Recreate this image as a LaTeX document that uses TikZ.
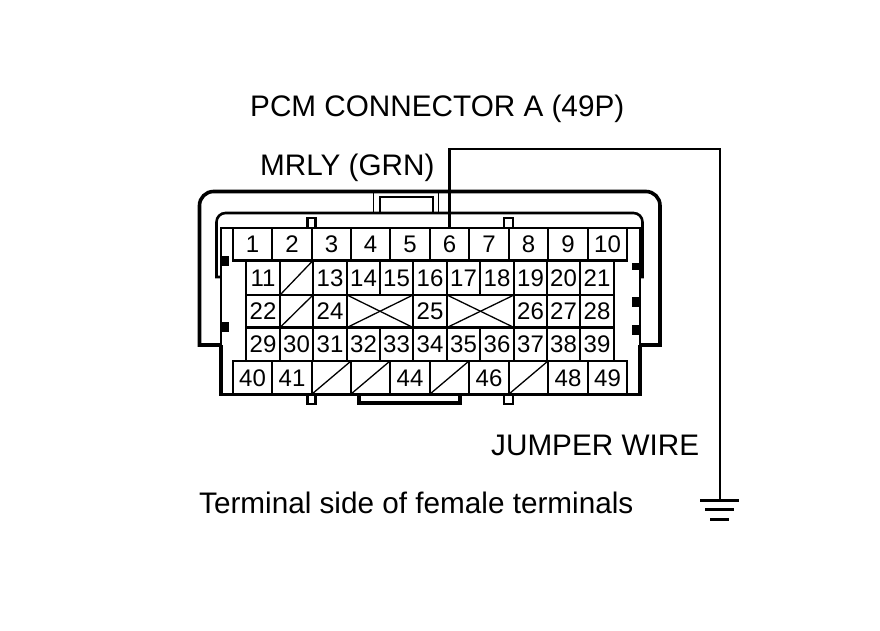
\documentclass[tikz,border=0pt]{standalone}
\usepackage{fontspec}
\setmainfont{Liberation Sans}
\tikzset{
  cellbox/.style={draw=black,line width=2.1pt,inner sep=0pt,outer sep=0pt,font=\fontsize{24}{24}\selectfont,anchor=center,text height=17pt,text depth=0pt},
  shell/.style={draw=black,line width=3.6pt,line join=miter},
  thinshell/.style={draw=black,line width=2.6pt},
  diag/.style={draw=black,line width=1.3pt},
  tab/.style={draw=black,line width=2.4pt,fill=white},
  pin/.style={fill=black,draw=none},
  wire/.style={draw=black,line width=2.2pt},
  label/.style={inner sep=0pt,anchor=base west,font=\fontsize{29.7}{29.7}\selectfont},
}
% \Cell{name}{x1}{x2}{y1}{y2}{text}
\newcommand{\Cell}[6]{%
  \pgfmathsetmacro{\cx}{(#2+#3)/2}\pgfmathsetmacro{\cy}{(#4+#5)/2}%
  \pgfmathsetmacro{\cw}{#3-#2}\pgfmathsetmacro{\ch}{#5-#4}%
  \node[cellbox,minimum width=\cw pt,minimum height=\ch pt] (#1) at (\cx,\cy) {#6};}
\begin{document}
\begin{tikzpicture}[x=1pt,y=-1pt]
\useasboundingbox (0,0) rectangle (880,630);
% shells
\draw[shell] (221,345) -- (199.5,345) [rounded corners=14pt] -- (199.5,191.5) -- (660,191.5) [sharp corners] -- (660,345) -- (640,345);
\draw[thinshell] (221,277) -- (216.5,277) [rounded corners=9pt] -- (216.5,213) -- (642.5,213) [sharp corners] -- (642.5,277) -- (640,277);
% latch
\draw[draw=black,line width=1.4pt] (373.5,192) -- (373.5,213);
\draw[draw=black,line width=1.4pt] (438.5,192) -- (438.5,213);
\draw[thinshell] (380,213) -- (380,197) -- (433,197) -- (433,213);
% tabs
\draw[tab] (307.5,228) rectangle (315.5,218);
\draw[tab] (504,228) rectangle (513,218);
\draw[tab] (307.5,395) rectangle (315.5,404);
\draw[tab] (504,395) rectangle (513,404);
\draw[shell] (359,395) -- (359,403) -- (460,403) -- (460,395);
% body
\draw[draw=black,line width=2.1pt,fill=white] (221,228) rectangle (640,394.5);
\draw[shell] (221,345) -- (221,394.5) -- (640,394.5) -- (640,345);
% pins
\fill[pin] (221,256) rectangle (229,266);
\fill[pin] (221,322) rectangle (229,332);
\fill[pin] (632,263) rectangle (640,270);
\fill[pin] (632,297) rectangle (640,307);
\fill[pin] (632,325) rectangle (640,335);
% row 1
\Cell{c1}{233}{272}{228}{260.5}{1}
\Cell{c2}{272}{312}{228}{260.5}{2}
\Cell{c3}{312}{351}{228}{260.5}{3}
\Cell{c4}{351}{390}{228}{260.5}{4}
\Cell{c5}{390}{430}{228}{260.5}{5}
\Cell{c6}{430}{469}{228}{260.5}{6}
\Cell{c7}{469}{509}{228}{260.5}{7}
\Cell{c8}{509}{548}{228}{260.5}{8}
\Cell{c9}{548}{588}{228}{260.5}{9}
\Cell{c10}{588}{627}{228}{260.5}{10}
% row 2
\Cell{c11}{246}{280}{260.5}{295}{11}
\Cell{c12}{280}{313}{260.5}{295}{}
\Cell{c13}{313}{347}{260.5}{295}{13}
\Cell{c14}{347}{380}{260.5}{295}{14}
\Cell{c15}{380}{413}{260.5}{295}{15}
\Cell{c16}{413}{447}{260.5}{295}{16}
\Cell{c17}{447}{480}{260.5}{295}{17}
\Cell{c18}{480}{514}{260.5}{295}{18}
\Cell{c19}{514}{547}{260.5}{295}{19}
\Cell{c20}{547}{580}{260.5}{295}{20}
\Cell{c21}{580}{614}{260.5}{295}{21}
% row 3
\Cell{c22}{246}{280}{295}{327.5}{22}
\Cell{c23}{280}{313}{295}{327.5}{}
\Cell{c24}{313}{347}{295}{327.5}{24}
\Cell{cx1}{347}{413}{295}{327.5}{}
\Cell{c25}{413}{447}{295}{327.5}{25}
\Cell{cx2}{447}{514}{295}{327.5}{}
\Cell{c26}{514}{547}{295}{327.5}{26}
\Cell{c27}{547}{580}{295}{327.5}{27}
\Cell{c28}{580}{614}{295}{327.5}{28}
% row 4
\Cell{c29}{246}{280}{327.5}{361}{29}
\Cell{c30}{280}{313}{327.5}{361}{30}
\Cell{c31}{313}{347}{327.5}{361}{31}
\Cell{c32}{347}{380}{327.5}{361}{32}
\Cell{c33}{380}{413}{327.5}{361}{33}
\Cell{c34}{413}{447}{327.5}{361}{34}
\Cell{c35}{447}{480}{327.5}{361}{35}
\Cell{c36}{480}{514}{327.5}{361}{36}
\Cell{c37}{514}{547}{327.5}{361}{37}
\Cell{c38}{547}{580}{327.5}{361}{38}
\Cell{c39}{580}{614}{327.5}{361}{39}
% row 5
\Cell{c40}{233}{272}{361}{394}{40}
\Cell{c41}{272}{312}{361}{394}{41}
\Cell{c42}{312}{351}{361}{394}{}
\Cell{c43}{351}{390}{361}{394}{}
\Cell{c44}{390}{430}{361}{394}{44}
\Cell{c45}{430}{469}{361}{394}{}
\Cell{c46}{469}{509}{361}{394}{46}
\Cell{c47}{509}{548}{361}{394}{}
\Cell{c48}{548}{588}{361}{394}{48}
\Cell{c49}{588}{627}{361}{394}{49}
% bottom line over row 5
\draw[shell] (221,394.5) -- (640,394.5);
% diagonals
\foreach \n in {c12,c23,c42,c43,c45,c47,cx1,cx2}
  \draw[diag] (\n.south west) -- (\n.north east);
\foreach \n in {cx1,cx2}
  \draw[diag] (\n.north west) -- (\n.south east);
% wire and ground
\coordinate (gnd) at (720,500);
\coordinate (corner1) at (449.5,149);
\coordinate (corner2) at (720,149);
\draw[wire] (c6.north) -- (corner1) -- (corner2) -- (gnd);
\draw[draw=black,line width=3.4pt] (700,500.5) -- (739,500.5);
\draw[draw=black,line width=3pt] (705,509.5) -- (734,509.5);
\draw[draw=black,line width=3pt] (710,519) -- (729,519);
% labels
\node[label] (title) at (250,116) {PCM CONNECTOR A (49P)};
\node[label] (mrly) at (260,175) {MRLY (GRN)};
\node[label] (jumper) at (491,455) {JUMPER WIRE};
\node[label] (side) at (199,513) {Terminal side of female terminals};
\end{tikzpicture}
\end{document}
